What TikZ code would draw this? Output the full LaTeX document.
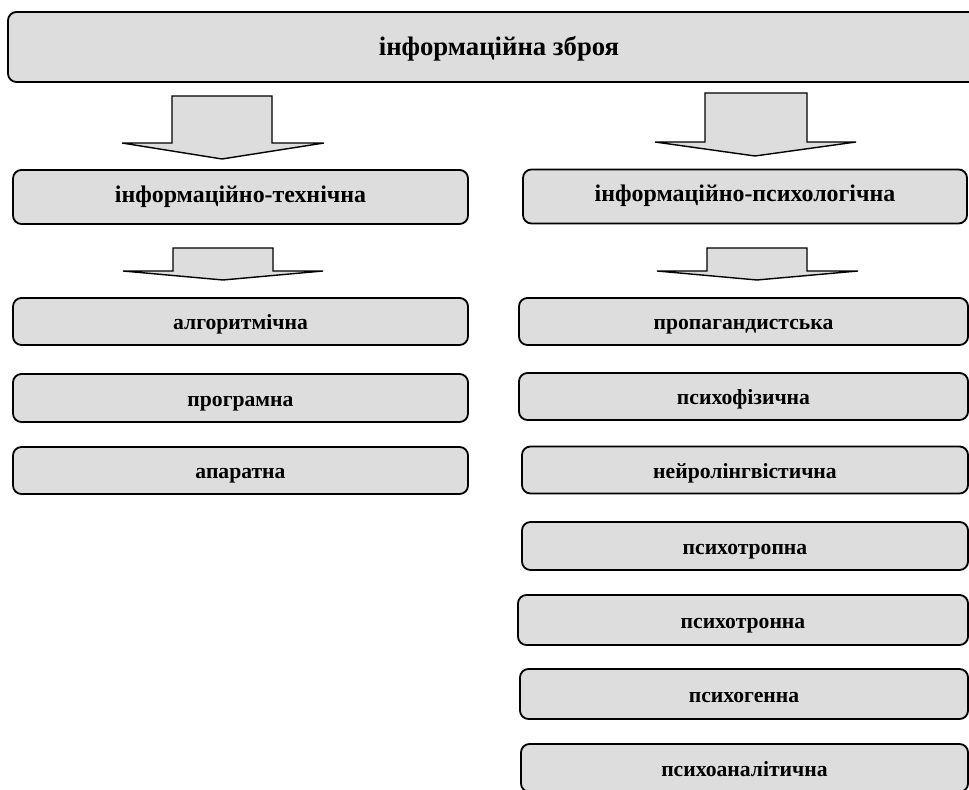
\documentclass[tikz,border=0pt]{standalone}
\usepackage{fontspec}
\setmainfont{Liberation Serif}
\definecolor{boxgray}{HTML}{DDDDDD}
\begin{document}
\begin{tikzpicture}[line cap=round,line join=round,
    box/.style={draw,line width=1.3pt,fill=boxgray,rounded corners=6pt,inner sep=0pt},
    blockarrow/.style={draw,line width=1pt,fill=boxgray,line join=miter},
    topfont/.style={font=\bfseries\fontsize{19}{22}\selectfont,text height=14pt,text depth=1.7pt},
    midfont/.style={font=\bfseries\fontsize{17}{20}\selectfont,text height=10pt,text depth=2.2pt},
    lowfont/.style={font=\bfseries\fontsize{15.4}{18}\selectfont,text height=14pt,text depth=2pt}]
  \clip (0,0) rectangle (24.225,19.75);
  \fill[white] (0,0) rectangle (24.225,19.75);
  % top level
  \node[box,topfont,minimum width=24.55cm,minimum height=1.75cm] (weapon) at (12.475,18.575) {інформаційна зброя};
  \draw[blockarrow] (4.3,17.35) -- (6.8,17.35) -- (6.8,16.175) -- (8.1,16.175) -- (5.55,15.775) -- (3.05,16.175) -- (4.3,16.175) -- cycle;
  \draw[blockarrow] (17.625,17.425) -- (20.175,17.425) -- (20.175,16.2) -- (21.4,16.2) -- (18.875,15.85) -- (16.375,16.2) -- (17.625,16.2) -- cycle;
  % second level
  \node[box,midfont,minimum width=11.375cm,minimum height=1.35cm] (tech) at (6.0125,14.825) {інформаційно-технічна};
  \node[box,midfont,minimum width=11.1cm,minimum height=1.35cm] (psych) at (18.625,14.8375) {інформаційно-психологічна};
  \draw[blockarrow] (4.325,13.55) -- (6.825,13.55) -- (6.825,12.975) -- (8.075,12.975) -- (5.575,12.75) -- (3.075,12.975) -- (4.325,12.975) -- cycle;
  \draw[blockarrow] (17.675,13.55) -- (20.175,13.55) -- (20.175,12.975) -- (21.45,12.975) -- (18.925,12.75) -- (16.425,12.975) -- (17.675,12.975) -- cycle;
  % technical kinds
  \node[box,lowfont,minimum width=11.375cm,minimum height=1.175cm] (algo) at (6.0125,11.7125) {алгоритмічна};
  \node[box,lowfont,minimum width=11.375cm,minimum height=1.2cm] (prog) at (6.0125,9.8) {програмна};
  \node[box,lowfont,minimum width=11.375cm,minimum height=1.175cm] (hard) at (6.0125,7.9875) {апаратна};
  % psychological kinds
  \node[box,lowfont,minimum width=11.225cm,minimum height=1.175cm] (prop) at (18.5875,11.7125) {пропагандистська};
  \node[box,lowfont,minimum width=11.225cm,minimum height=1.175cm] (phys) at (18.5875,9.8375) {психофізична};
  \node[box,lowfont,minimum width=11.15cm,minimum height=1.175cm] (neuro) at (18.625,8.0) {нейролінгвістична};
  \node[box,lowfont,minimum width=11.15cm,minimum height=1.2cm] (tropic) at (18.625,6.1) {психотропна};
  \node[box,lowfont,minimum width=11.25cm,minimum height=1.25cm] (tronic) at (18.575,4.25) {психотронна};
  \node[box,lowfont,minimum width=11.2cm,minimum height=1.25cm] (genic) at (18.6,2.4) {психогенна};
  \node[box,lowfont,minimum width=11.175cm,minimum height=1.2cm] (analytic) at (18.6125,0.55) {психоаналітична};
\end{tikzpicture}
\end{document}
